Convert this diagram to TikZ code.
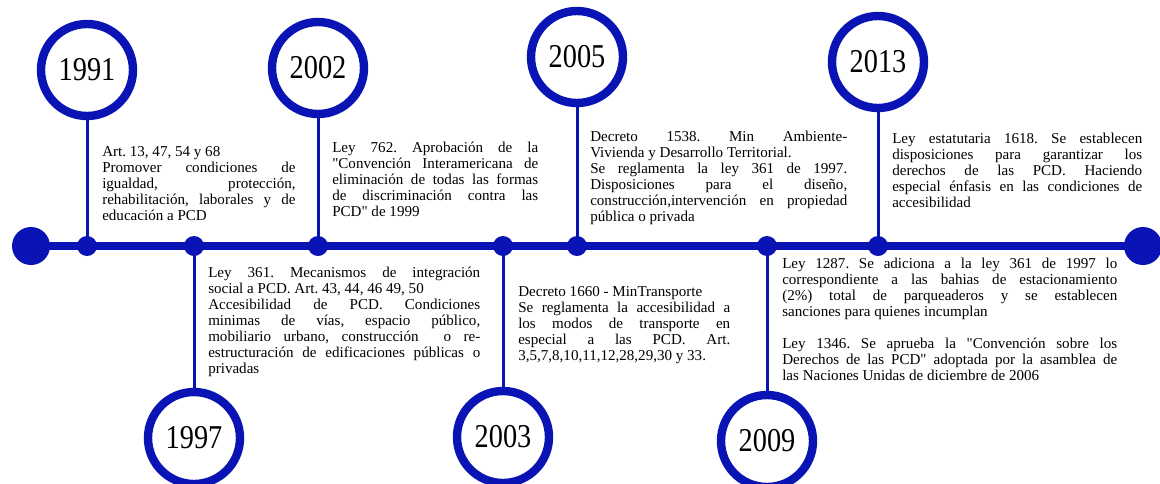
\documentclass[tikz,border=0pt]{standalone}
\usepackage{fontspec}
\setmainfont{Liberation Serif}
\usepackage{graphicx}
\definecolor{tlblue}{RGB}{10,20,180}
\setlength\parindent{0pt}
\tolerance=10000 \hbadness=10000
\frenchspacing
\font\plainqfont="Liberation Serif" at 11.3pt
\newcommand\JL[1]{{\parfillskip=0pt #1\par}}
\newcommand\RL[1]{#1\par}
\newcommand\qq{{\plainqfont\char34}}
\begin{document}
\begin{tikzpicture}[x=0.75pt,y=-0.75pt,
  mainline/.style={draw=tlblue,line width=6pt},
  stem/.style={draw=tlblue,line width=2.25pt},
  smalldot/.style={circle,fill=tlblue,minimum size=15pt,inner sep=0pt},
  bigdot/.style={circle,fill=tlblue,minimum size=28.5pt,inner sep=0pt},
  yearc/.style={circle,draw=tlblue,fill=white,line width=6.3pt,minimum size=69pt,inner sep=0pt,
    font=\fontsize{25}{25}\selectfont},
  txt/.style={anchor=north west,inner sep=0pt,align=justify,font=\fontsize{11.3}{12}\selectfont\frenchspacing}]
\useasboundingbox (0,0) rectangle (1160,483);
\coordinate (pL) at (31,246);
\coordinate (pR) at (1143,246);
\draw[mainline] (pL) -- (pR);
\node[bigdot] (eL) at (pL) {};
\node[bigdot] (eR) at (pR) {};
% dots
\node[smalldot] (d1991) at (87,246) {};
\node[smalldot] (d1997) at (194,246) {};
\node[smalldot] (d2002) at (318,246) {};
\node[smalldot] (d2003) at (503,246) {};
\node[smalldot] (d2005) at (577,246) {};
\node[smalldot] (d2009) at (767,246) {};
\node[smalldot] (d2013) at (878,246) {};
% year circles
\node[yearc] (c1991) at (87,70) {\scalebox{0.85}[1]{1991}};
\node[yearc] (c2002) at (318,68) {\scalebox{0.85}[1]{2002}};
\node[yearc] (c2005) at (577,57) {\scalebox{0.85}[1]{2005}};
\node[yearc] (c2013) at (878,62) {\scalebox{0.85}[1]{2013}};
\node[yearc] (c1997) at (194,438) {\scalebox{0.85}[1]{1997}};
\node[yearc] (c2003) at (503,437) {\scalebox{0.85}[1]{2003}};
\node[yearc] (c2009) at (767,441) {\scalebox{0.85}[1]{2009}};
% stems
\foreach \y in {1991,1997,2002,2003,2005,2009,2013}{
  \draw[stem] (c\y) -- (d\y.center);
}
% texts
\node[txt,text width=145pt] (t1991) at (102,146) {%
\RL{Art. 13, 47, 54 y 68}
\JL{Promover condiciones de}
\JL{igualdad, protección,}
\JL{rehabilitación, laborales y de}
\RL{educación a PCD}};
\node[txt,text width=154.5pt] (t2002) at (332,142) {%
\JL{Ley 762. Aprobación de la}
\JL{\qq Convención Interamericana de}
\JL{eliminación de todas las formas}
\JL{de discriminación contra las}
\RL{PCD\qq\ de 1999}};
\node[txt,text width=192.75pt] (t2005) at (590,131) {%
\JL{Decreto 1538. Min Ambiente-}
\RL{Vivienda y Desarrollo Territorial.}
\JL{Se reglamenta la ley 361 de 1997.}
\JL{Disposiciones para el diseño,}
\JL{construcción,intervención en propiedad}
\RL{pública o privada}};
\node[txt,text width=187.5pt] (t2013) at (892,133) {%
\JL{Ley estatutaria 1618. Se establecen}
\JL{disposiciones para garantizar los}
\JL{derechos de las PCD. Haciendo}
\JL{especial énfasis en las condiciones de}
\RL{accesibilidad}};
\node[txt,text width=204pt] (t1997) at (208,267) {%
\JL{Ley 361. Mecanismos de integración}
\RL{social a PCD. Art. 43, 44, 46 49, 50}
\JL{Accesibilidad de PCD. Condiciones}
\JL{minimas de vías, espacio público,}
\JL{mobiliario urbano, construcción\ \ o re-}
\JL{estructuración de edificaciones públicas o}
\RL{privadas}};
\node[txt,text width=159pt] (t2003) at (518,286) {%
\RL{Decreto 1660 - MinTransporte}
\JL{Se reglamenta la accesibilidad a}
\JL{los modos de transporte en}
\JL{especial a las PCD. Art.}
\RL{3,5,7,8,10,11,12,28,29,30 y 33.}};
\node[txt,text width=251.25pt] (t2009) at (782,258) {%
\JL{Ley 1287. Se adiciona a la ley 361 de 1997 lo}
\JL{correspondiente a las bahias de estacionamiento}
\JL{(2\%) total de parqueaderos y se establecen}
\RL{sanciones para quienes incumplan}
\vspace{12pt}
\JL{Ley 1346. Se aprueba la \qq Convención sobre los}
\JL{Derechos de las PCD\qq\ adoptada por la asamblea de}
\RL{las Naciones Unidas de diciembre de 2006}};
\end{tikzpicture}
\end{document}
